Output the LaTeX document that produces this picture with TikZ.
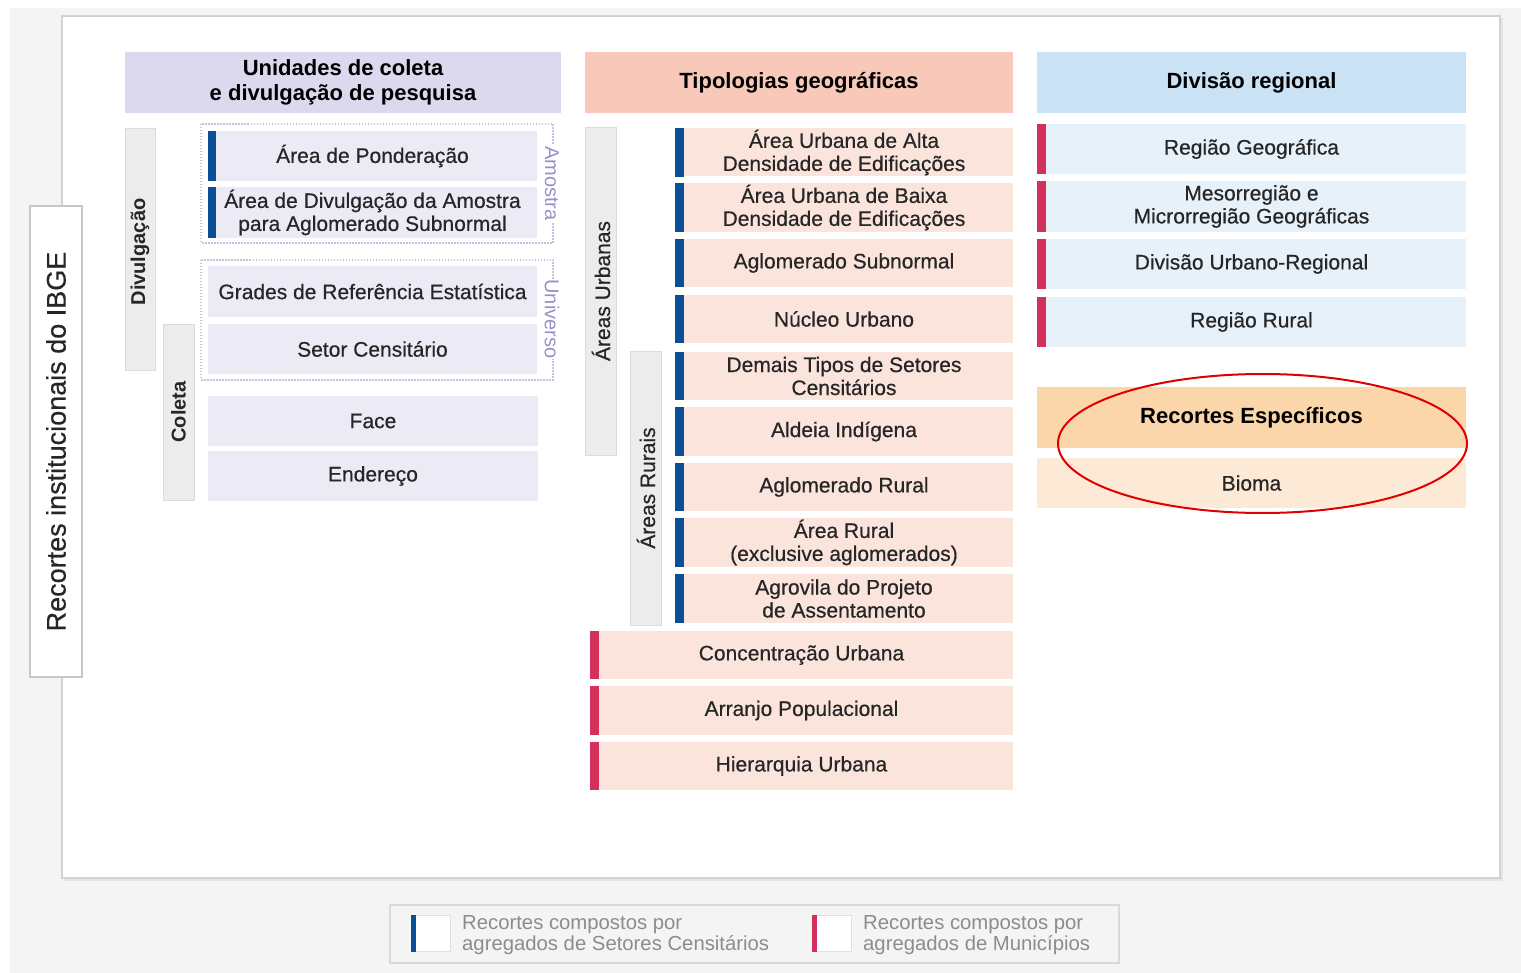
\documentclass[tikz,border=0pt]{standalone}
\usepackage{fontspec}
\setmainfont{Liberation Sans}
\newfontfamily\medfont[FakeBold=0.5]{Liberation Sans}
\usetikzlibrary{shapes.geometric}
\definecolor{bgGray}{HTML}{F4F4F4}
\definecolor{panelLine}{HTML}{D2D2D2}
\definecolor{txt}{HTML}{262626}
\definecolor{lavH}{HTML}{DCD8EE}
\definecolor{lavL}{HTML}{ECEAF5}
\definecolor{salH}{HTML}{F8C9B9}
\definecolor{salL}{HTML}{FBE4DC}
\definecolor{bluH}{HTML}{C9E3F5}
\definecolor{bluL}{HTML}{E6F1FA}
\definecolor{orgH}{HTML}{FCD6AB}
\definecolor{orgL}{HTML}{FDEAD6}
\definecolor{barGray}{HTML}{ECECEC}
\definecolor{barLine}{HTML}{DCDCDC}
\definecolor{blueBar}{HTML}{0A4F96}
\definecolor{redBar}{HTML}{D3305C}
\definecolor{dotLine}{HTML}{C6C2DC}
\definecolor{sampTxt}{HTML}{9A90C8}
\definecolor{legTxt}{HTML}{8C8C8C}
\definecolor{ringRed}{HTML}{E00000}
\begin{document}
\begin{tikzpicture}[x=1pt,y=-1pt,
  base/.style={rectangle, inner sep=0pt, align=center, text=txt, font=\medfont\fontsize{21}{23}\selectfont},
  hdr/.style={base, minimum height=61pt, font=\fontsize{22}{25}\selectfont\bfseries, text=black},
  lavItem/.style={base, fill=lavL, minimum width=329pt, minimum height=50pt},
  salItem/.style={base, fill=salL, minimum width=338pt, minimum height=48pt},
  salRed/.style={base, fill=salL, minimum width=423pt, minimum height=48pt},
  bluItem/.style={base, fill=bluL, minimum width=429pt, minimum height=50pt},
  sidebar/.style={fill=barGray, draw=barLine, line width=1pt},
  sidetxt/.style={inner sep=0pt, text=txt, rotate=90, font=\fontsize{20}{22}\selectfont\bfseries},
  dotbox/.style={draw=dotLine, line width=1.5pt, dash pattern=on 1.5pt off 1.5pt},
  samplbl/.style={inner sep=1pt, fill=white, text=sampTxt, rotate=-90, font=\fontsize{20}{22}\selectfont},
  legtext/.style={inner sep=0pt, anchor=west, align=left, text=legTxt, font=\fontsize{20.3}{21}\selectfont}
]
\useasboundingbox (0,0) rectangle (1521,973);
% background
\fill[white] (0,0) rectangle (1521,973);
\fill[bgGray] (10,8) rectangle (1521,973);
\fill[black!10] (64,18) rectangle (1503,881);
\fill[white, draw=panelLine, line width=2pt] (62,16) rectangle (1500,878);

% left label
\node[fill=white, draw=black!22, line width=1.5pt, minimum width=52pt, minimum height=471pt, inner sep=0pt] (inst) at (56,441.5) {};
\node[inner sep=0pt, rotate=90, text=txt, font=\medfont\fontsize{27}{30}\selectfont] (instT) at (inst.center) {Recortes institucionais do IBGE};

% ---------- column 1 ----------
\node[hdr, fill=lavH, minimum width=436pt] (h1) at (343,82.5) {Unidades de coleta\\e divulgação de pesquisa};
\draw[sidebar] (125,129) rectangle (155,371);
\node[sidetxt] (divT) at (140,252) {Divulgação};
\draw[sidebar] (163,325) rectangle (194,500);
\node[sidetxt] (colT) at (178.5,412) {Coleta};

\draw[dotbox] (201,124) rectangle (553,243);
\node[samplbl] (amT) at (552,183.5) {Amostra};
\draw[dotbox] (201,260) rectangle (553,380);
\node[samplbl] (unT) at (552,319) {Universo};

\node[lavItem] (pond) at (372.5,156) {Área de Ponderação};
\node[lavItem, minimum height=51pt] (divam) at (372.5,212.5) {Área de Divulgação da Amostra\\para Aglomerado Subnormal};
\node[lavItem, minimum height=51pt] (grades) at (372.5,291.5) {Grades de Referência Estatística};
\node[lavItem] (setor) at (372.5,349) {Setor Censitário};
\node[lavItem, minimum width=330pt] (face) at (373,421) {Face};
\node[lavItem, minimum width=330pt] (ender) at (373,476) {Endereço};
\foreach \n in {pond,divam}{\fill[blueBar] (\n.north west) rectangle ([xshift=8pt]\n.south west);}

% ---------- column 2 ----------
\node[hdr, fill=salH, minimum width=428pt] (h2) at (799,82.5) {Tipologias geográficas};
\draw[sidebar] (585,128) rectangle (616,455);
\node[sidetxt, font=\medfont\fontsize{21}{23}\selectfont] (urbT) at (601,291) {Áreas Urbanas};
\draw[sidebar] (630,352) rectangle (661,625);
\node[sidetxt, font=\medfont\fontsize{21}{23}\selectfont] (rurT) at (646,488) {Áreas Rurais};

\node[salItem] (t1) at (844,152.5) {Área Urbana de Alta\\Densidade de Edificações};
\node[salItem, minimum height=49pt] (t2) at (844,207.5) {Área Urbana de Baixa\\Densidade de Edificações};
\node[salItem] (t3) at (844,263) {Aglomerado Subnormal};
\node[salItem] (t4) at (844,319) {Núcleo Urbano};
\node[salItem] (t5) at (844,376) {Demais Tipos de Setores\\Censitários};
\node[salItem, minimum height=49pt] (t6) at (844,431.5) {Aldeia Indígena};
\node[salItem] (t7) at (844,487) {Aglomerado Rural};
\node[salItem, minimum height=49pt] (t8) at (844,542.5) {Área Rural\\(exclusive aglomerados)};
\node[salItem, minimum height=49pt] (t9) at (844,598.5) {Agrovila do Projeto\\de Assentamento};
\foreach \n in {t1,t2,t3,t4,t5,t6,t7,t8,t9}{\fill[blueBar] (\n.north west) rectangle ([xshift=9pt]\n.south west);}

\node[salRed] (r1) at (801.5,655) {Concentração Urbana};
\node[salRed, minimum height=49pt] (r2) at (801.5,710.5) {Arranjo Populacional};
\node[salRed] (r3) at (801.5,766) {Hierarquia Urbana};
\foreach \n in {r1,r2,r3}{\fill[redBar] (\n.north west) rectangle ([xshift=9pt]\n.south west);}

% ---------- column 3 ----------
\node[hdr, fill=bluH, minimum width=429pt] (h3) at (1251.5,82.5) {Divisão regional};
\node[bluItem] (d1) at (1251.5,149) {Região Geográfica};
\node[bluItem, minimum height=51pt] (d2) at (1251.5,206.5) {Mesorregião e\\Microrregião Geográficas};
\node[bluItem] (d3) at (1251.5,264) {Divisão Urbano-Regional};
\node[bluItem] (d4) at (1251.5,322) {Região Rural};
\foreach \n in {d1,d2,d3,d4}{\fill[redBar] (\n.north west) rectangle ([xshift=9pt]\n.south west);}

\node[hdr, fill=orgH, minimum width=429pt] (h4) at (1251.5,417.5) {Recortes Específicos};
\node[base, fill=orgL, minimum width=429pt, minimum height=50pt] (bioma) at (1251.5,483) {Bioma};
\node[ellipse, draw=ringRed, line width=2pt, minimum width=409pt, minimum height=139pt, inner sep=0pt] (ring) at (1262.5,443.5) {};

% ---------- legend ----------
\draw[fill=bgGray, draw=black!15, line width=1.5pt] (390,905) rectangle (1119,963);
\node[fill=white, draw=black!12, line width=1pt, minimum width=39pt, minimum height=36pt, inner sep=0pt] (swB) at (430.5,933) {};
\fill[blueBar] (swB.north west) rectangle ([xshift=5pt]swB.south west);
\node[legtext] (legB) at (462,935.5) {Recortes compostos por\\agregados de Setores Censitários};
\node[fill=white, draw=black!12, line width=1pt, minimum width=39pt, minimum height=36pt, inner sep=0pt] (swR) at (831.5,933) {};
\fill[redBar] (swR.north west) rectangle ([xshift=5pt]swR.south west);
\node[legtext] (legR) at (863,935.5) {Recortes compostos por\\agregados de Municípios};
\end{tikzpicture}
\end{document}
